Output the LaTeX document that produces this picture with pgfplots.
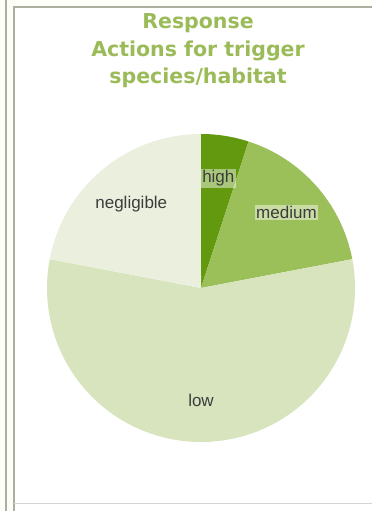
\documentclass[border=0pt]{standalone}
\usepackage{pgfplots}
\pgfplotsset{compat=1.18}
\usepackage{pgfplotstable}
\usepackage{fontspec}
\setmainfont{Liberation Sans}
\newfontfamily\titlefont{DejaVu Sans}

\definecolor{highc}{RGB}{99,153,14}
\definecolor{medc}{RGB}{155,192,89}
\definecolor{lowc}{RGB}{215,228,189}
\definecolor{negc}{RGB}{234,240,221}
\definecolor{titlec}{RGB}{155,187,89}
\definecolor{bgc}{RGB}{254,254,249}
\definecolor{framec}{RGB}{172,174,160}
\definecolor{lblc}{RGB}{60,60,60}

\pgfplotstableread{
label value
high 5
medium 17
low 56
negligible 22
}\pietable

\tikzset{lbl/.style={font=\fontsize{17}{20}\selectfont, text=lblc, fill=white, fill opacity=0.45, text opacity=1, inner sep=1.5pt}}

\begin{document}
\begin{tikzpicture}[x=1pt,y=1pt]
\useasboundingbox (0,0) rectangle (372,511);
\fill[bgc] (0,0) rectangle (372,511);
\fill[white] (14,0) rectangle (372,504);
\draw[framec,line width=1.3pt] (6,0) -- (6,511);
\draw[framec,line width=1.3pt] (14,0) -- (14,504) -- (372,504);
\draw[framec!50,line width=0.8pt] (14,8) -- (372,8);

% title
\node[font=\titlefont\bfseries\fontsize{20.5}{23}\selectfont, text=titlec, anchor=base] at (198,482) {Response};
\node[font=\titlefont\bfseries\fontsize{20.5}{23}\selectfont, text=titlec, anchor=base] at (198,454) {Actions for trigger};
\node[font=\titlefont\bfseries\fontsize{20.5}{23}\selectfont, text=titlec, anchor=base] at (198,427) {species/habitat};

\pgfplotstablegetelem{0}{value}\of\pietable \let\vA\pgfplotsretval
\pgfplotstablegetelem{1}{value}\of\pietable \let\vB\pgfplotsretval
\pgfplotstablegetelem{2}{value}\of\pietable \let\vC\pgfplotsretval
\pgfplotstablegetelem{3}{value}\of\pietable \let\vD\pgfplotsretval
\pgfmathsetmacro{\total}{\vA+\vB+\vC+\vD}
\pgfmathsetmacro{\aO}{90}
\pgfmathsetmacro{\aA}{90-360*(\vA/\total)}
\pgfmathsetmacro{\aB}{\aA-360*(\vB/\total)}
\pgfmathsetmacro{\aC}{\aB-360*(\vC/\total)}
\pgfmathsetmacro{\aD}{\aC-360*(\vD/\total)}
\pgfmathsetmacro{\mA}{(\aO+\aA)/2}
\pgfmathsetmacro{\mB}{(\aA+\aB)/2}
\pgfmathsetmacro{\mC}{(\aB+\aC)/2}
\pgfmathsetmacro{\mD}{(\aC+\aD)/2}

\begin{axis}[at={(201pt,223pt)}, anchor=center, x=154pt, y=154pt,
  xmin=-1, xmax=1, ymin=-1, ymax=1, hide axis, clip=false]
\fill[highc] (axis cs:0,0) -- (axis cs:{cos(\aO)},{sin(\aO)}) arc[start angle=\aO, end angle=\aA, radius=154pt] -- cycle;
\fill[medc] (axis cs:0,0) -- (axis cs:{cos(\aA)},{sin(\aA)}) arc[start angle=\aA, end angle=\aB, radius=154pt] -- cycle;
\fill[lowc] (axis cs:0,0) -- (axis cs:{cos(\aB)},{sin(\aB)}) arc[start angle=\aB, end angle=\aC, radius=154pt] -- cycle;
\fill[negc] (axis cs:0,0) -- (axis cs:{cos(\aC)},{sin(\aC)}) arc[start angle=\aC, end angle=\aD, radius=154pt] -- cycle;
\node[lbl] at (axis cs:{0.72*cos(\mA)},{0.72*sin(\mA)}) {high};
\node[lbl] at (axis cs:{0.74*cos(\mB)},{0.74*sin(\mB)}) {medium};
\node[lbl, fill opacity=0] at (axis cs:{0.73*cos(\mC)},{0.73*sin(\mC)}) {low};
\node[lbl, fill opacity=0] at (axis cs:{0.71*cos(\mD)},{0.71*sin(\mD)}) {negligible};
\end{axis}
\end{tikzpicture}
\end{document}
